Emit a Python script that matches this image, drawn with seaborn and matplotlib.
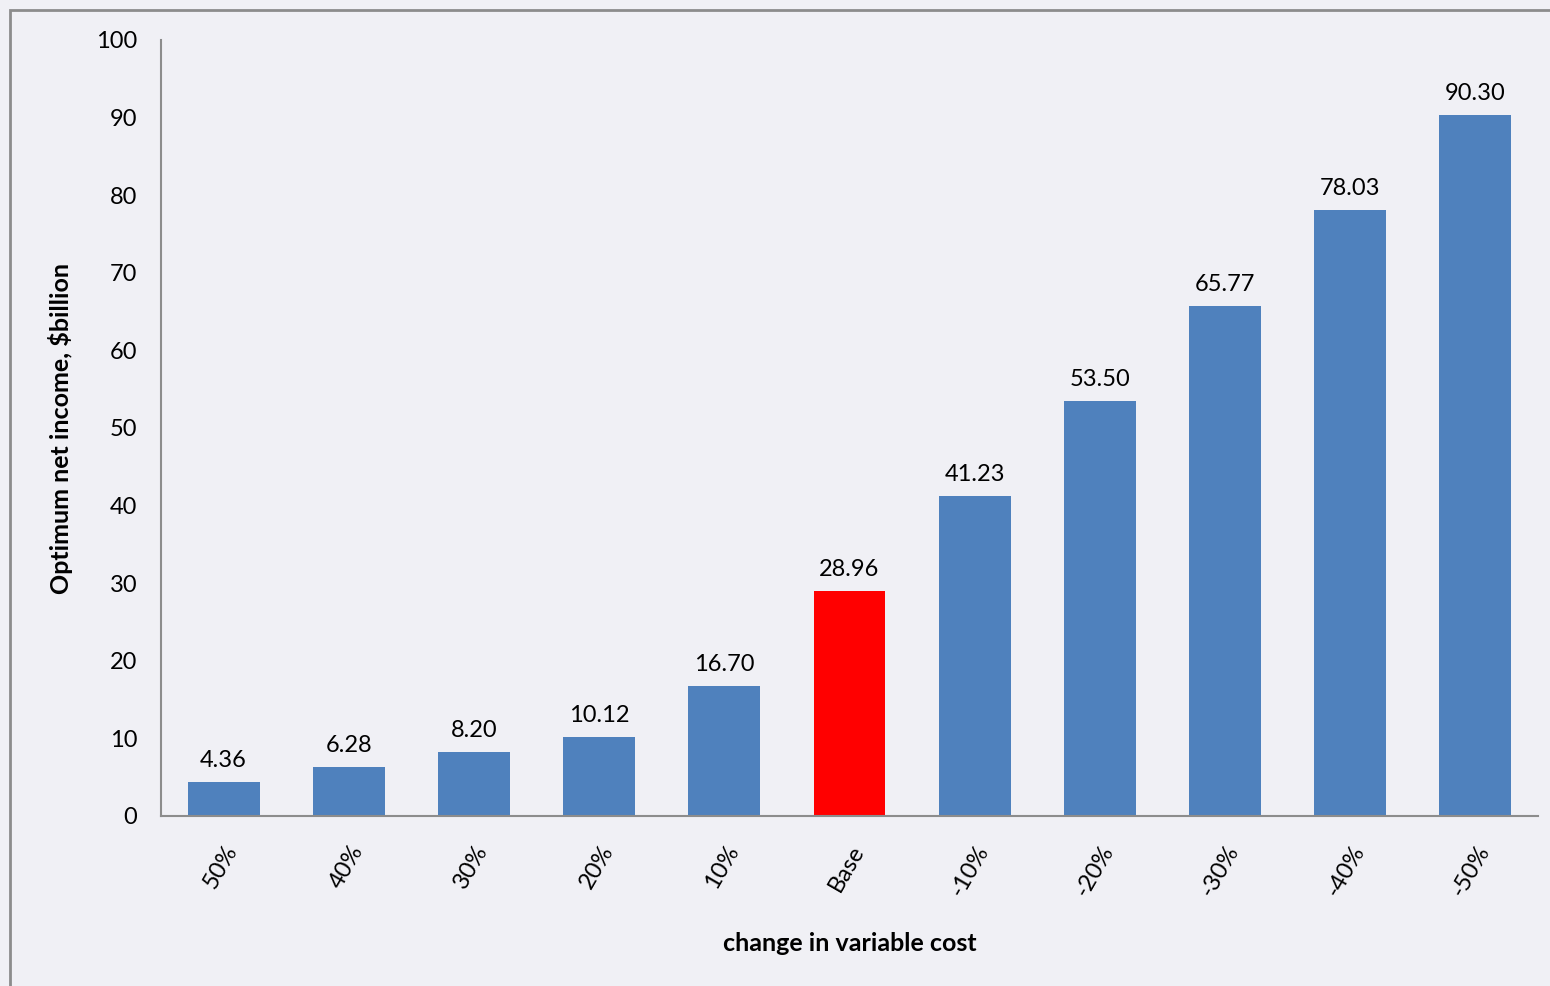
import matplotlib
matplotlib.use("Agg")
import matplotlib.pyplot as plt
import matplotlib.patches as mpatches
import matplotlib.transforms as mtransforms
import seaborn as sns
import pandas as pd

categories = ["50%", "40%", "30%", "20%", "10%", "Base", "-10%", "-20%", "-30%", "-40%", "-50%"]
values = [4.36, 6.28, 8.20, 10.12, 16.70, 28.96, 41.23, 53.50, 65.77, 78.03, 90.30]
value_labels = ["4.36", "6.28", "8.20", "10.12", "16.70", "28.96", "41.23", "53.50", "65.77", "78.03", "90.30"]
y_ticks = [0, 10, 20, 30, 40, 50, 60, 70, 80, 90, 100]

bg = "#F0F0F5"
blue = "#4F81BD"
red = "#FF0000"
colors = [red if c == "Base" else blue for c in categories]

sns.set_theme(style="white")
plt.rcParams["font.family"] = ["Lato", "DejaVu Sans"]
plt.rcParams["text.color"] = "black"
plt.rcParams["axes.labelcolor"] = "black"
plt.rcParams["xtick.color"] = "black"
plt.rcParams["ytick.color"] = "black"

fs = 17
fs_lab = 18

fig = plt.figure(figsize=(15.5, 9.86), dpi=100)
fig.patch.set_facecolor(bg)
ax = fig.add_axes([161/1550, 1-816/986, (1538-161)/1550, (816-40)/986])
ax.set_facecolor(bg)

df = pd.DataFrame({"cat": categories, "val": values})
sns.barplot(data=df, x="cat", y="val", hue="cat", palette=colors, legend=False,
            width=0.575, ax=ax, saturation=1, order=categories, linewidth=0,
            edgecolor="none")

ax.set_xlim(-0.5, len(categories) - 0.5)
ax.set_ylim(0, 100)
ax.set_yticks(y_ticks)
ax.set_yticklabels([str(t) for t in y_ticks], fontsize=fs, color="black")
ax.tick_params(axis="y", length=0, pad=17)
ax.tick_params(axis="x", length=0, pad=2)

for s in ["top", "right"]:
    ax.spines[s].set_visible(False)
for s in ["left", "bottom"]:
    ax.spines[s].set_color("#8C8C8C")
    ax.spines[s].set_linewidth(1.5)

ax.set_xticks(range(len(categories)))
ax.set_xticklabels(categories, fontsize=fs, rotation=60, ha="right", va="center",
                   rotation_mode="anchor", color="black")
offset = mtransforms.ScaledTranslation(9/100, -28/100, fig.dpi_scale_trans)
for lbl in ax.get_xticklabels():
    lbl.set_transform(lbl.get_transform() + offset)

for i, (v, t) in enumerate(zip(values, value_labels)):
    ax.annotate(t, (i, v), xytext=(0, 8), textcoords="offset points",
                ha="center", va="bottom", fontsize=fs, color="black")

ax.set_xlabel("change in variable cost", fontsize=fs_lab, fontweight="bold", labelpad=0,
              color="black")
ax.xaxis.set_label_coords(0.5, -0.149)
ax.set_ylabel("Optimum net income, $billion", fontsize=fs_lab, fontweight="bold",
              color="black")
ax.yaxis.set_label_coords(-0.064, 0.5)

border = mpatches.Rectangle((10/1550, -0.05), 1.1, 1-10/986+0.05, transform=fig.transFigure,
                            fill=False, edgecolor="#8C8C8C", linewidth=2)
fig.patches.append(border)

fig.savefig("out.png", dpi=100, facecolor=bg)
